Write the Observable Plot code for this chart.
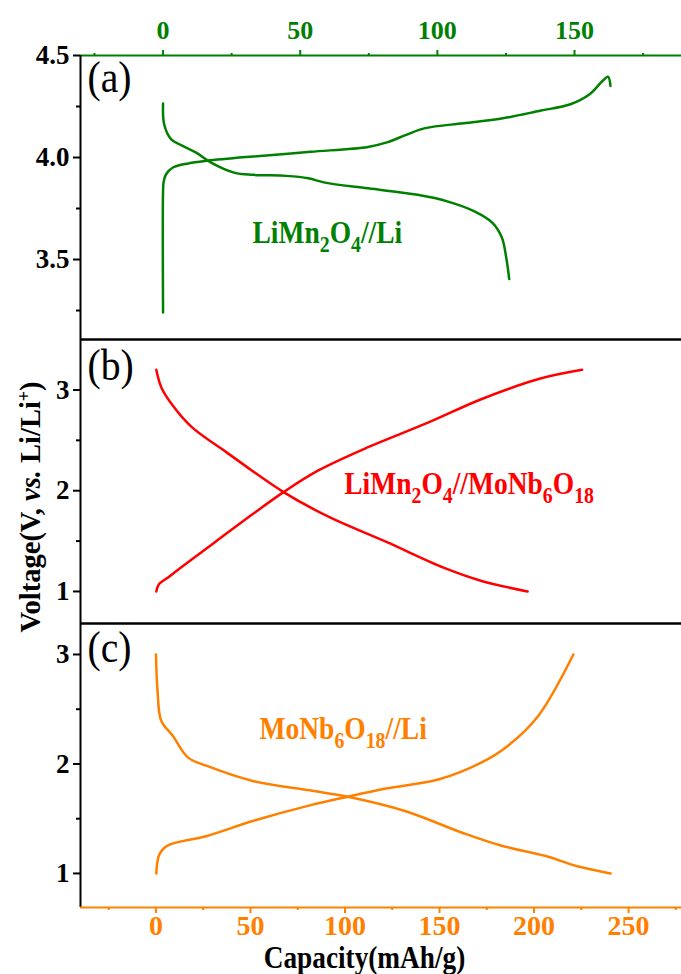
<!DOCTYPE html>
<html>
<head>
<meta charset="utf-8">
<script src="https://cdn.jsdelivr.net/npm/d3@7"></script>
<script src="https://cdn.jsdelivr.net/npm/@observablehq/plot@0.6"></script>
<style>
html, body { margin: 0; padding: 0; background: #fff; }
#chart { position: relative; width: 681px; height: 974px; overflow: hidden; background: #fff; }
#chart svg { display: block; }
#ytitle {
  position: absolute; left: 30px; top: 507px;
  transform: translate(-50%, -50%) rotate(-90deg) scale(0.95, 1);
  font: bold 30px "Liberation Serif", "Times New Roman", serif;
  white-space: nowrap; line-height: 1; color: #000;
}
#ytitle sup { font-size: 0.62em; vertical-align: 0.55em; line-height: 0; }
</style>
</head>
<body>
<div id="chart"></div>
<script>
// ---------- data ----------
// (a) LiMn2O4//Li  (top, green capacity axis)
const capA_charge  = [0, 0, 0.2, 1.1, 3.6, 9.2, 16.1, 32.8, 53.8, 74.7, 81.6, 88.6, 95.6, 109.5, 123.4, 137.4, 148.5, 155.5, 159.7, 162.2, 163.1];
const voltA_charge = [3.240, 3.837, 3.880, 3.918, 3.951, 3.971, 3.984, 4.005, 4.028, 4.052, 4.074, 4.111, 4.144, 4.168, 4.191, 4.229, 4.261, 4.310, 4.368, 4.396, 4.351];
const capA_dis  = [0, 0.4, 2.9, 6.4, 11.9, 17.5, 25.9, 32.8, 45, 53, 59, 74.7, 92.8, 103.9, 113.7, 120, 123.5, 125.1, 126.2];
const voltA_dis = [4.265, 4.163, 4.090, 4.062, 4.025, 3.975, 3.926, 3.915, 3.910, 3.898, 3.877, 3.849, 3.817, 3.784, 3.735, 3.681, 3.608, 3.510, 3.404];

// (b) LiMn2O4//MoNb6O18 (red)
const capB_charge  = [0.2, 1.5, 6.6, 12.9, 31.2, 51.4, 67.5, 85.9, 112.2, 142.6, 172.7, 202.9, 225.4];
const voltB_charge = [1.0, 1.07, 1.142, 1.234, 1.489, 1.771, 1.986, 2.201, 2.432, 2.665, 2.913, 3.111, 3.2];
const capB_dis  = [0.2, 2.8, 8.9, 19, 37.2, 67.5, 91.8, 122.2, 152.5, 172.7, 196.6];
const voltB_dis = [3.2, 3.028, 2.846, 2.631, 2.383, 1.986, 1.737, 1.489, 1.234, 1.102, 1.0];

// (c) MoNb6O18//Li (orange, bottom capacity axis)
const capC_charge  = [0.2, 1.8, 5.8, 27, 51.2, 81.4, 101.5, 121.7, 149.8, 172, 186.1, 202.2, 220.8];
const voltC_charge = [1.0, 1.174, 1.251, 1.342, 1.479, 1.622, 1.701, 1.775, 1.860, 2.012, 2.165, 2.439, 3.0];
const capC_dis  = [0, 0.8, 2.8, 8.9, 17, 27, 51.2, 81.4, 101.5, 131.7, 162, 182, 206.3, 222.4, 240.5];
const voltC_dis = [3.0, 2.683, 2.394, 2.257, 2.058, 1.982, 1.845, 1.759, 1.701, 1.571, 1.372, 1.257, 1.159, 1.068, 1.0];

// tick values
const topMajor = [0, 50, 100, 150];
const topMinor = [-25, 25, 75, 125, 175];
const botMajor = [0, 50, 100, 150, 200, 250];
const botMinor = [-25, 25, 75, 125, 175, 225, 275];
const yTicksA = [3.5, 4.0, 4.5], yMinorA = [3.25, 3.75, 4.25];
const yTicksB = [1, 2, 3], yMinorB = [1.5, 2.5];
const yTicksC = [1, 2, 3], yMinorC = [1.5, 2.5];

// annotation labels (data coordinates)
const labelA = [{cap: 32.6, v: 3.583, t: "LiMn{2}O{4}//Li"}];
const labelB = [{cap: 99.6, v: 1.970, t: "LiMn{2}O{4}//MoNb{6}O{18}"}];
const labelC = [{cap: 54.8, v: 2.232, t: "MoNb{6}O{18}//Li"}];
const panelNames = ["(a)", "(b)", "(c)"];
const xTitle = "Capacity(mAh/g)";

// ---------- helpers ----------
const rows = (xs, ys) => xs.map((c, i) => ({cap: c, v: ys[i]}));
const FONT = '"Liberation Serif", "Times New Roman", serif';
const GREEN = "#008000", RED = "#ff0000", ORANGE = "#ff8000";
const W = 681, ML = 80;
const xTop = [-30.1, 189], xBot = [-39.9, 278];
const yA = [3.108, 4.5], yB = [0.682, 3.501], yC = [0.689, 3.283];
const LW = 2.5;
const baseStyle = {fontFamily: FONT, background: "white", overflow: "hidden", color: "black"};
const fmtInt = d3.format("d"), fmt1 = d3.format(".1f");

const panelLabel = (name, dy) => Plot.text([name], {text: d => d, frameAnchor: "top-left", dx: 7, dy, fontSize: 44, fontWeight: "normal", textAnchor: "start", lineAnchor: "bottom", fill: "black"});
const curveLabel = (data, color) => Plot.text(data, {x: "cap", y: "v", text: "t", fill: color, fontSize: 32, fontWeight: "bold", textAnchor: "start", lineAnchor: "bottom"});

// ---------- panel a ----------
const plotA = Plot.plot({
  width: W, height: 339, marginTop: 55, marginBottom: 0, marginLeft: ML, marginRight: 0,
  style: baseStyle,
  x: {domain: xTop, label: null},
  y: {domain: yA, label: null},
  marks: [
    Plot.axisX({anchor: "top", ticks: topMajor, tickFormat: fmtInt, tickSize: 6, tickPadding: 11, color: GREEN, strokeWidth: 2, fontSize: 26, fontWeight: "bold", label: null}),
    Plot.axisX({anchor: "top", ticks: topMinor, tickSize: 3, stroke: GREEN, strokeWidth: 2, fill: "none", label: null}),
    Plot.axisY({ticks: yTicksA, tickFormat: fmt1, tickSize: 7, tickPadding: 4, strokeWidth: 2, fontSize: 27, fontWeight: "bold", label: null}),
    Plot.axisY({ticks: yMinorA, tickSize: 4, strokeWidth: 2, fill: "none", label: null}),
    Plot.ruleY([yA[1]], {stroke: GREEN, strokeWidth: 2}),
    Plot.ruleY([yA[0]], {stroke: "black", strokeWidth: 2.6}),
    Plot.ruleX([xTop[0]], {stroke: "black", strokeWidth: 2}),
    Plot.line(rows(capA_charge, voltA_charge), {x: "cap", y: "v", stroke: GREEN, strokeWidth: LW, curve: "catmull-rom"}),
    Plot.line(rows(capA_dis, voltA_dis), {x: "cap", y: "v", stroke: GREEN, strokeWidth: LW, curve: "catmull-rom"}),
    curveLabel(labelA, GREEN),
    panelLabel(panelNames[0], 36)
  ]
});

// ---------- panel b ----------
const plotB = Plot.plot({
  width: W, height: 284, marginTop: 0, marginBottom: 0, marginLeft: ML, marginRight: 0,
  style: baseStyle,
  x: {domain: xBot, axis: null, label: null},
  y: {domain: yB, label: null},
  marks: [
    Plot.axisY({ticks: yTicksB, tickFormat: fmtInt, tickSize: 7, tickPadding: 4, strokeWidth: 2, fontSize: 27, fontWeight: "bold", label: null}),
    Plot.axisY({ticks: yMinorB, tickSize: 4, strokeWidth: 2, fill: "none", label: null}),
    Plot.ruleY([yB[1]], {stroke: "black", strokeWidth: 2.6}),
    Plot.ruleY([yB[0]], {stroke: "black", strokeWidth: 2.6}),
    Plot.ruleX([xBot[0]], {stroke: "black", strokeWidth: 2}),
    Plot.line(rows(capB_charge, voltB_charge), {x: "cap", y: "v", stroke: RED, strokeWidth: LW, curve: "catmull-rom"}),
    Plot.line(rows(capB_dis, voltB_dis), {x: "cap", y: "v", stroke: RED, strokeWidth: LW, curve: "catmull-rom"}),
    curveLabel(labelB, RED),
    panelLabel(panelNames[1], 40)
  ]
});

// ---------- panel c ----------
const plotC = Plot.plot({
  width: W, height: 351, marginTop: 0, marginBottom: 67, marginLeft: ML, marginRight: 0,
  style: baseStyle,
  x: {domain: xBot, label: null},
  y: {domain: yC, label: null},
  marks: [
    Plot.axisX({anchor: "bottom", ticks: botMajor, tickFormat: fmtInt, tickSize: 6, tickPadding: 2, color: ORANGE, strokeWidth: 2, fontSize: 28, fontWeight: "bold", label: null}),
    Plot.axisX({anchor: "bottom", ticks: botMinor, tickSize: 3, stroke: ORANGE, strokeWidth: 2, fill: "none", label: null}),
    Plot.axisY({ticks: yTicksC, tickFormat: fmtInt, tickSize: 7, tickPadding: 4, strokeWidth: 2, fontSize: 27, fontWeight: "bold", label: null}),
    Plot.axisY({ticks: yMinorC, tickSize: 4, strokeWidth: 2, fill: "none", label: null}),
    Plot.ruleY([yC[1]], {stroke: "black", strokeWidth: 2.6}),
    Plot.ruleX([xBot[0]], {stroke: "black", strokeWidth: 2}),
    Plot.ruleY([yC[0]], {stroke: ORANGE, strokeWidth: 2}),
    Plot.line(rows(capC_charge, voltC_charge), {x: "cap", y: "v", stroke: ORANGE, strokeWidth: LW, curve: "catmull-rom"}),
    Plot.line(rows(capC_dis, voltC_dis), {x: "cap", y: "v", stroke: ORANGE, strokeWidth: LW, curve: "catmull-rom"}),
    curveLabel(labelC, ORANGE),
    panelLabel(panelNames[2], 38),
    Plot.text([xTitle], {text: d => d, frameAnchor: "bottom", dx: -16.5, dy: 60.5, fontSize: 31, fontWeight: "bold", fill: "black", textAnchor: "middle", lineAnchor: "bottom"})
  ]
});

const chart = document.getElementById("chart");
chart.append(plotA, plotB, plotC);

const ytitle = document.createElement("div");
ytitle.id = "ytitle";
ytitle.innerHTML = 'Voltage(V, <i>vs.</i> Li/Li<sup>+</sup>)';
chart.append(ytitle);

// ---------- post-processing: subscripts & condensed label glyphs ----------
function condense(el, f) {
  const x = +el.getAttribute("x") || 0, y = +el.getAttribute("y") || 0;
  const t = el.getAttribute("transform") || "";
  el.setAttribute("transform", `${t} translate(${x},${y}) scale(${f},1) translate(${-x},${-y})`);
}
const NS = "http://www.w3.org/2000/svg";
for (const svg of [plotA, plotB, plotC]) {
  d3.select(svg).selectAll("text").each(function () {
    const s = this.textContent;
    if (s.includes("{")) {
      const fs = parseFloat(getComputedStyle(this).fontSize) || 32;
      const off = fs * 0.3;
      this.textContent = "";
      let shifted = false;
      for (const p of s.split(/(\{[^}]*\})/).filter(p => p)) {
        const ts = document.createElementNS(NS, "tspan");
        if (p.startsWith("{")) {
          ts.textContent = p.slice(1, -1);
          ts.setAttribute("font-size", fs * 0.72);
          if (!shifted) { ts.setAttribute("dy", off); shifted = true; }
        } else {
          ts.textContent = p;
          if (shifted) { ts.setAttribute("dy", -off); shifted = false; }
        }
        this.appendChild(ts);
      }
      condense(this, 0.86);
    } else if (panelNames.includes(s)) {
      condense(this, 0.9);
    } else if (s === xTitle) {
      condense(this, 0.88);
    }
  });
}
</script>
</body>
</html>
